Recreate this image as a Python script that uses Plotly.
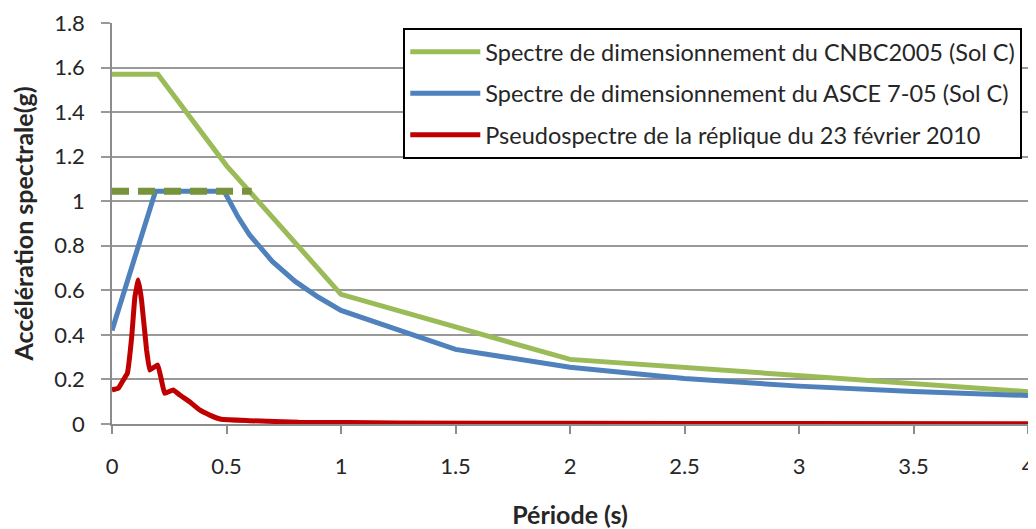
import plotly.graph_objects as go

# CNBC 2005 design spectrum (Sol C)
cnbc_T = [0, 0.2, 0.5, 1.0, 2.0, 4.0]
cnbc_Sa = [1.57, 1.57, 1.16, 0.582, 0.29, 0.145]

# ASCE 7-05 design spectrum (Sol C)
asce_T = [0, 0.19, 0.49, 0.55, 0.6, 0.7, 0.8, 0.9, 1.0, 1.5, 2.0, 2.5, 3.0, 3.5, 4.0]
asce_Sa = [0.42, 1.045, 1.045, 0.93, 0.85, 0.73, 0.64, 0.57, 0.51, 0.335, 0.255, 0.204, 0.17, 0.146, 0.128]

# dashed plateau line
dash_T = [0, 0.61]
dash_Sa = [1.045, 1.045]

# Pseudospectre de la réplique du 23 février 2010
red_T = [0, 0.027, 0.049, 0.067, 0.086, 0.1, 0.115, 0.129, 0.151, 0.165, 0.187, 0.2,
         0.216, 0.23, 0.267, 0.296, 0.339, 0.383, 0.427, 0.477, 0.6, 0.816, 1.25, 2.0, 3.0, 4.0]
red_Sa = [0.153, 0.16, 0.197, 0.227, 0.39, 0.571, 0.646, 0.556, 0.332, 0.242, 0.257, 0.265,
          0.197, 0.138, 0.153, 0.13, 0.1, 0.063, 0.04, 0.021, 0.015, 0.008, 0.005, 0.003, 0.002, 0.001]

x_ticks = [0, 0.5, 1, 1.5, 2, 2.5, 3, 3.5, 4]
x_labels = ["0", "0.5", "1", "1.5", "2", "2.5", "3", "3.5", "4"]
y_ticks = [0, 0.2, 0.4, 0.6, 0.8, 1, 1.2, 1.4, 1.6, 1.8]
y_labels = ["0", "0.2", "0.4", "0.6", "0.8", "1", "1.2", "1.4", "1.6", "1.8"]

FONT = "Lato, Open Sans, sans-serif"
TXT = "#262626"

fig = go.Figure()
fig.add_trace(go.Scatter(x=cnbc_T, y=cnbc_Sa, mode="lines",
                         name="Spectre de dimensionnement du CNBC2005 (Sol C)",
                         line=dict(color="#9BBB59", width=5), legendgroup="a"))
fig.add_trace(go.Scatter(x=asce_T, y=asce_Sa, mode="lines",
                         name="Spectre de dimensionnement du ASCE 7-05 (Sol C)",
                         line=dict(color="#4F81BD", width=5), legendgroup="b"))
fig.add_trace(go.Scatter(x=red_T, y=red_Sa, mode="lines",
                         name="Pseudospectre de la réplique du 23 février 2010",
                         line=dict(color="#C00000", width=5, shape="spline", smoothing=0.3), legendgroup="c"))
fig.add_trace(go.Scatter(x=dash_T, y=dash_Sa, mode="lines", showlegend=False,
                         line=dict(color="#77933C", width=7, dash="17px,9px")))

# page body has an 8px default margin: figure is sized/offset to compensate
fig.update_layout(
    width=1028, height=521,
    margin=dict(l=104, r=8, t=15, b=105),
    paper_bgcolor="white", plot_bgcolor="white",
    font=dict(family=FONT, size=22, color=TXT),
    showlegend=True,
    legend=dict(x=0.318, y=0.9876, xanchor="left", yanchor="top",
                bordercolor="black", borderwidth=2, bgcolor="white",
                font=dict(family=FONT, size=23.5, color=TXT),
                traceorder="grouped", tracegroupgap=8, itemwidth=70),
)
fig.update_xaxes(range=[0, 4], tickvals=x_ticks, ticktext=x_labels, automargin=False,
                 tickfont=dict(family=FONT, size=22, color=TXT),
                 ticklabeloverflow="allow", ticklabelstandoff=14,
                 showgrid=False, showline=True, linecolor="#8C8C8C", linewidth=1.5,
                 ticks="outside", ticklen=8, tickcolor="#8C8C8C", tickwidth=1.5,
                 zeroline=False,
                 title=dict(text="<b>Période (s)</b>", font=dict(family=FONT, size=25, color=TXT), standoff=28))
fig.update_yaxes(range=[0, 1.8], tickvals=y_ticks, ticktext=y_labels, automargin=False,
                 tickfont=dict(family=FONT, size=22, color=TXT),
                 ticklabelstandoff=12,
                 showgrid=True, gridcolor="#999999", gridwidth=1.5,
                 showline=True, linecolor="#8C8C8C", linewidth=1.5,
                 ticks="outside", ticklen=9, tickcolor="#999999", tickwidth=1.5,
                 zeroline=False,
                 title=dict(text="<b>Accélération spectrale(g)</b>", font=dict(family=FONT, size=25, color=TXT), standoff=14))

fig.write_html("out.html")
